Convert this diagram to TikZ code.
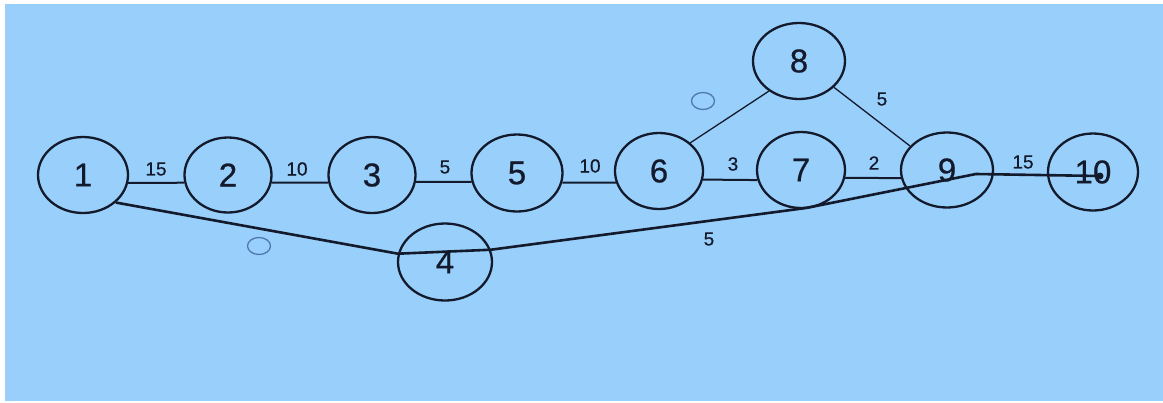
\documentclass[tikz,border=0pt]{standalone}
\usepackage{fontspec}
\setmainfont{Liberation Sans}
\newfontfamily\heavyfont{Liberation Sans}[FakeBold=0.6]
\usetikzlibrary{shapes.geometric}
\definecolor{bgblue}{RGB}{153,207,251}
\definecolor{ink}{RGB}{18,26,44}
\definecolor{faint}{RGB}{80,120,170}
\tikzset{
  vertex/.style={draw=ink, line width=2.3pt, ellipse, minimum width=90pt, minimum height=76pt, inner sep=0pt, font=\heavyfont\fontsize{33}{33}\selectfont, text=ink},
  wlabel/.style={font=\heavyfont\fontsize{19}{19}\selectfont, text=ink, inner sep=0pt},
  edge/.style={draw=ink, line width=2pt},
  thinedge/.style={draw=ink, line width=1.3pt},
  thickedge/.style={draw=ink, line width=2.6pt, line join=round},
  zeromark/.style={draw=faint, line width=1.3pt, ellipse, minimum width=23pt, minimum height=17pt, inner sep=0pt}
}
\begin{document}
\begin{tikzpicture}[x=1pt,y=-1pt]
\useasboundingbox (0,0) rectangle (1163,402);
\fill[white] (0,0) rectangle (1163,402);
\fill[bgblue] (5,4) rectangle (1163,401);

\node[vertex] (n1) at (83,175) {1};
\node[vertex, minimum width=87pt, minimum height=75pt] (n2) at (228,175) {2};
\node[vertex, minimum width=87pt] (n3) at (372,175) {3};
\node[vertex, minimum width=91pt, minimum height=77pt] (n5) at (517,173) {5};
\node[vertex, minimum width=88pt] (n6) at (659,171) {6};
\node[vertex, minimum width=92pt] (n8) at (799,61) {8};
\node[vertex, minimum width=88pt] (n7) at (801,170) {7};
\node[vertex, minimum width=92pt, minimum height=75pt] (n9) at (947,170) {9};
\node[vertex, minimum width=90pt, minimum height=77pt] (n10) at (1093,172) {10};
\node[vertex, minimum width=94pt, minimum height=77pt] (n4) at (445,262) {4};

\coordinate (kA) at (806,208);
\coordinate (k9) at (976,174);
\coordinate (e10) at (1100,176);

\draw[edge] (n1.-10) -- (n2.190);
\draw[edge] (n2.-10) -- (n3.190);
\draw[edge] (n3.-9) -- (n5.191);
\draw[edge] (n5.-12) -- (n6.195);
\draw[edge] (n6.-11) -- (n7.193);
\draw[edge] (n7.-10) -- (n9.190);
\draw[thinedge] (n6.42) -- (n8.225);
\draw[thinedge] (n8.-37) -- (n9.147);
\draw[thickedge] (n1.-40) -- (n4.170) -- (n4.15);
\draw[thickedge] (n4.15) -- (kA) -- (k9);
\draw[thickedge] (k9) -- (e10);
\fill[ink] (e10) circle (3.5pt);

\node[wlabel] (l12) at (156,169) {15};
\node[wlabel] (l23) at (297,169) {10};
\node[wlabel] (l35) at (445,167) {5};
\node[wlabel] (l56) at (590,166) {10};
\node[wlabel] (l67) at (733,164) {3};
\node[wlabel] (l79) at (874,163) {2};
\node[wlabel] (l910) at (1023,162) {15};
\node[wlabel] (l89) at (882,99) {5};
\node[wlabel] (l49) at (709,239) {5};

\node[zeromark] (z14) at (259,246) {};
\node[zeromark] (z68) at (703,101) {};
\end{tikzpicture}
\end{document}
